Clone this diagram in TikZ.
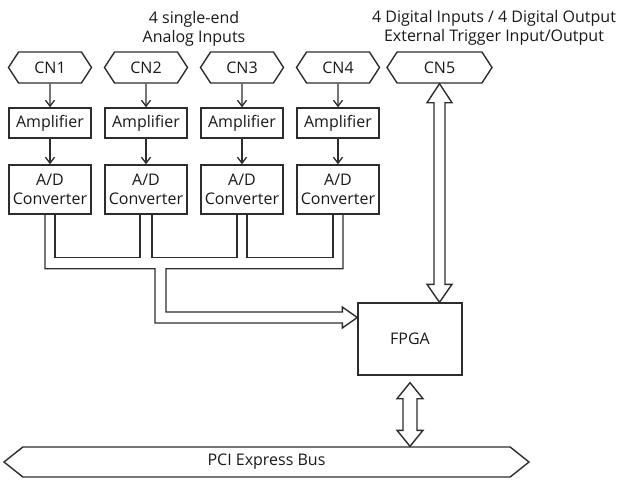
\documentclass[tikz,border=0pt]{standalone}
\usepackage{fontspec}
\setmainfont{Open Sans}
\usepackage{tikz}
\usetikzlibrary{shapes.symbols,arrows.meta,calc}
\definecolor{linegray}{RGB}{45,45,45}
\definecolor{textgray}{RGB}{25,25,25}
\tikzset{
  box/.style={draw=linegray,line width=1.4pt,minimum width=82pt,inner sep=1pt},
  port/.style={draw=linegray,line width=1.4pt,signal,signal to=west and east,signal pointer angle=114,minimum height=31pt,inner sep=1pt},
  flow/.style={draw=linegray,line width=1.3pt,-{Straight Barb[length=6pt,width=9pt]}},
  bus/.style={draw=linegray,line width=1.4pt,line join=miter},
}

\begin{document}
\begin{tikzpicture}[x=1pt,y=-1pt,font=\fontsize{16}{19.5}\selectfont,text=textgray]
      \useasboundingbox (0,0) rectangle (623,479);
      % titles
      \node [align=center] (ain) at (194,29) {4 single-end\\Analog Inputs};
      \node [align=center] (dio) at (494,28) {4 Digital Inputs / 4 Digital Output\\External Trigger Input/Output};
      % connectors
      \node [port,minimum width=83pt] (cn1) at (50,67.5) {CN1};
      \node [port,minimum width=83pt] (cn2) at (146,67.5) {CN2};
      \node [port,minimum width=83pt] (cn3) at (242,67.5) {CN3};
      \node [port,minimum width=83pt] (cn4) at (338,67.5) {CN4};
      \node [port,minimum width=105pt] (cn5) at (439.5,67.5) {CN5};
      % amplifiers
      \node [box,minimum height=30pt] (amp1) at (50,123) {Amplifier};
      \node [box,minimum height=30pt] (amp2) at (146,123) {Amplifier};
      \node [box,minimum height=30pt] (amp3) at (242,123) {Amplifier};
      \node [box,minimum height=30pt] (amp4) at (338,123) {Amplifier};
      % converters
      \node [box,minimum height=49pt,align=center] (ad1) at (50,189.5) {A/D\\Converter};
      \node [box,minimum height=49pt,align=center] (ad2) at (146,189.5) {A/D\\Converter};
      \node [box,minimum height=49pt,align=center] (ad3) at (242,189.5) {A/D\\Converter};
      \node [box,minimum height=49pt,align=center] (ad4) at (338,189.5) {A/D\\Converter};
      \node [box,minimum width=104pt,minimum height=72pt] (fpga) at (410,339) {FPGA};
      \node [port,signal pointer angle=77,minimum width=525pt,minimum height=30pt] (pci) at (266.5,462) {PCI Express Bus};
      \coordinate (tip) at ($(fpga.west)+(0,-21.5)$);

      \draw [flow] (cn1)--(amp1);
      \draw [flow] (cn2)--(amp2);
      \draw [flow] (cn3)--(amp3);
      \draw [flow] (cn4)--(amp4);
      \draw [flow] (amp1)--(ad1);
      \draw [flow] (amp2)--(ad2);
      \draw [flow] (amp3)--(ad3);
      \draw [flow] (amp4)--(ad4);

      % converter bus into the FPGA
      \draw [bus] ($(ad1.south)+(-5,0)$) |- ($(ad1.south)+(105,54)$) |- ($(tip)+(-15,5.5)$) -- ++(0,5) -- (tip)
        -- ++(-15,-10.5) -- ++(0,5) -| ($(ad4.south)+(-172,54)$) -| ($(ad4.south)+(5,0)$);
      \draw [bus] ($(ad1.south)+(5,0)$) -- ++(0,43) -| ($(ad2.south)+(-6,0)$);
      \draw [bus] ($(ad2.south)+(6,0)$) -- ++(0,43) -| ($(ad3.south)+(-5,0)$);
      \draw [bus] ($(ad3.south)+(5,0)$) -- ++(0,43) -| ($(ad4.south)+(-5,0)$);

      % CN5 <-> FPGA
      \draw [bus] (cn5.south) -- ++(12.5,19) -- ++(-7,0) -- ($(cn5.south |- fpga.north)+(5.5,-18)$) -- ++(7,0)
        -- (cn5.south |- fpga.north) -- ++(-12.5,-18) -- ++(7,0) -- ($(cn5.south)+(-5.5,19)$) -- ++(-7,0) -- cycle;
      % FPGA <-> PCI Express
      \draw [bus] ($(fpga.south)+(0,7)$) -- ++(13,16) -- ++(-6,0) -- ($(fpga.south |- pci.north)+(7,-16)$) -- ++(6,0)
        -- (fpga.south |- pci.north) -- ++(-13,-16) -- ++(6,0) -- ($(fpga.south)+(-7,23)$) -- ++(-6,0) -- cycle;
    \end{tikzpicture}
\end{document}
